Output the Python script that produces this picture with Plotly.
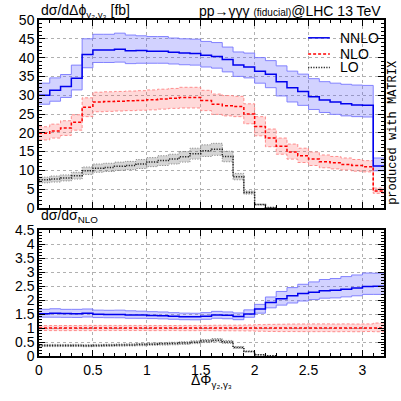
import plotly.graph_objects as go

# ---------------- data ----------------
phi_edges = [0.0, 0.1, 0.2, 0.3, 0.4, 0.5, 0.6, 0.7, 0.8, 0.9, 1.0, 1.1, 1.2, 1.3, 1.4, 1.5, 1.6,
             1.7, 1.8, 1.9, 2.0, 2.1, 2.2, 2.3, 2.4, 2.5, 2.6, 2.7, 2.8, 2.9, 3.0, 3.1, 3.2]

nnlo = [30.0, 31.3, 32.3, 34.5, 40.8, 42.0, 42.0, 42.2, 41.8, 41.9, 41.7, 41.7, 41.4, 41.2, 41.1, 40.6,
        40.3, 39.5, 38.0, 37.5, 36.4, 35.6, 33.6, 32.0, 31.0, 29.6, 28.7, 28.2, 27.7, 27.4, 27.3, 11.2]
nnlo_up = [33.2, 34.6, 35.5, 38.0, 45.0, 46.2, 46.2, 46.5, 46.0, 45.8, 45.6, 45.6, 45.2, 45.0, 44.9, 44.3,
           44.0, 42.8, 41.5, 41.2, 40.0, 39.2, 37.8, 36.4, 35.6, 34.4, 33.6, 33.2, 32.9, 32.7, 32.6, 13.3]
nnlo_lo = [27.6, 28.4, 29.4, 31.4, 37.3, 38.7, 38.7, 38.8, 38.4, 38.5, 38.5, 38.5, 38.3, 38.1, 38.0, 37.5,
           37.2, 36.2, 35.0, 34.6, 33.2, 32.0, 29.8, 28.2, 27.3, 26.2, 25.4, 24.9, 24.5, 24.3, 24.2, 9.9]

nlo = [19.9, 20.5, 21.3, 22.8, 26.8, 28.2, 28.3, 28.4, 28.5, 28.6, 28.8, 29.0, 29.2, 29.4, 29.4, 28.6,
       27.6, 27.2, 27.0, 25.0, 21.7, 18.6, 16.4, 14.9, 13.9, 13.0, 12.3, 12.0, 11.6, 11.3, 11.0, 4.5]
nlo_up = [21.6, 22.3, 23.2, 24.8, 29.3, 30.8, 30.9, 31.0, 31.1, 31.2, 31.4, 31.6, 31.8, 32.1, 32.1, 31.3,
          30.3, 29.9, 29.7, 27.7, 24.3, 21.0, 18.6, 17.0, 15.9, 14.9, 14.1, 13.7, 13.3, 12.9, 12.6, 5.3]
nlo_lo = [18.1, 18.6, 19.3, 20.7, 24.3, 25.6, 25.7, 25.8, 25.9, 26.0, 26.1, 26.3, 26.5, 26.6, 26.6, 25.9,
          24.9, 24.5, 24.3, 22.4, 19.2, 16.3, 14.3, 13.0, 12.1, 11.3, 10.7, 10.4, 10.1, 9.8, 9.6, 3.9]

lo = [7.5, 7.7, 8.0, 8.6, 9.9, 10.6, 10.8, 11.1, 11.3, 11.7, 12.2, 12.6, 13.0, 13.6, 14.4, 15.2,
      15.6, 13.7, 8.3, 4.1, 0.9, 0.1]
lo_up = [8.2, 8.5, 8.8, 9.5, 10.9, 11.7, 11.9, 12.2, 12.4, 12.9, 13.4, 13.9, 14.3, 15.0, 15.9, 16.8,
         17.2, 15.1, 9.2, 4.5, 1.0, 0.1]
lo_lo = [6.7, 6.9, 7.2, 7.7, 8.9, 9.5, 9.7, 10.0, 10.2, 10.5, 11.0, 11.3, 11.7, 12.2, 13.0, 13.7,
         14.0, 12.3, 7.5, 3.7, 0.8, 0.1]

x_ticks = [0, 0.5, 1, 1.5, 2, 2.5, 3]
x_ticklabels = ["0", "0.5", "1", "1.5", "2", "2.5", "3"]

# ---------------- helpers ----------------
FONT = "Liberation Sans, Arial, sans-serif"
DASH_NLO = "3px,2px"
DOT_LO = "1.2px,1.4px"


def step(vals):
    n = len(vals)
    return phi_edges[:n + 1], list(vals) + [vals[-1]]


fig = go.Figure()


def band(lo_v, hi_v, edge_color, fill, dash, xa, ya):
    x, ylo = step(lo_v)
    _, yhi = step(hi_v)
    fig.add_trace(go.Scatter(x=x, y=ylo, mode="lines", xaxis=xa, yaxis=ya, showlegend=False,
                             hoverinfo="skip",
                             line=dict(color=edge_color, width=1, dash=dash, shape="hv")))
    fig.add_trace(go.Scatter(x=x, y=yhi, mode="lines", xaxis=xa, yaxis=ya, showlegend=False,
                             hoverinfo="skip", fill="tonexty", fillcolor=fill,
                             line=dict(color=edge_color, width=1, dash=dash, shape="hv")))


def line(vals, color, dash, xa, ya, width=1.5):
    x, y = step(vals)
    fig.add_trace(go.Scatter(x=x, y=y, mode="lines", xaxis=xa, yaxis=ya, showlegend=False,
                             line=dict(color=color, width=width, dash=dash, shape="hv")))


C_NNLO = "#0000ee"
C_NNLO_E = "rgba(120,120,255,0.9)"
F_NNLO = "rgba(90,90,255,0.27)"
C_NLO = "#ff0000"
C_NLO_E = "rgba(255,130,130,0.9)"
F_NLO = "rgba(255,80,80,0.22)"
C_LO = "#222222"
C_LO_E = "rgba(130,130,130,0.9)"
F_LO = "rgba(100,100,100,0.27)"

# top panel
band(lo_lo, lo_up, C_LO_E, F_LO, DOT_LO, "x", "y")
band(nlo_lo, nlo_up, C_NLO_E, F_NLO, DASH_NLO, "x", "y")
band(nnlo_lo, nnlo_up, C_NNLO_E, F_NNLO, "solid", "x", "y")
line(lo, C_LO, DOT_LO, "x", "y")
line(nlo, C_NLO, DASH_NLO, "x", "y")
line(nnlo, C_NNLO, "solid", "x", "y")

# ratio panel
r_nnlo = [a / b for a, b in zip(nnlo, nlo)]
r_nnlo_up = [a / b for a, b in zip(nnlo_up, nlo)]
r_nnlo_lo = [a / b for a, b in zip(nnlo_lo, nlo)]
r_nlo = [a / b for a, b in zip(nlo, nlo)]
r_nlo_up = [a / b for a, b in zip(nlo_up, nlo)]
r_nlo_lo = [a / b for a, b in zip(nlo_lo, nlo)]
r_lo = [a / b for a, b in zip(lo, nlo)]
r_lo_up = [a / b for a, b in zip(lo_up, nlo)]
r_lo_lo = [a / b for a, b in zip(lo_lo, nlo)]

band(r_lo_lo, r_lo_up, C_LO_E, F_LO, DOT_LO, "x2", "y2")
band(r_nlo_lo, r_nlo_up, C_NLO_E, F_NLO, DASH_NLO, "x2", "y2")
band(r_nnlo_lo, r_nnlo_up, C_NNLO_E, F_NNLO, "solid", "x2", "y2")
line(r_lo, C_LO, DOT_LO, "x2", "y2")
line(r_nlo, C_NLO, DASH_NLO, "x2", "y2")
line(r_nnlo, C_NNLO, "solid", "x2", "y2")

axis_common = dict(showline=True, linecolor="black", linewidth=1.5, mirror="ticks",
                   ticks="inside", ticklen=6, tickwidth=1, tickcolor="black",
                   showgrid=True, gridcolor="#b0b0b0", griddash="dot", gridwidth=1,
                   zeroline=False, automargin=False,
                   tickfont=dict(family=FONT, size=14, color="black"))

fig.update_layout(
    template="none",
    width=401, height=401,
    margin=dict(l=39, r=17, t=20, b=45),
    paper_bgcolor="white", plot_bgcolor="white",
    showlegend=False,
    xaxis=dict(domain=[0, 1], range=[0, 3.2], anchor="y", tickvals=x_ticks, showticklabels=False,
               minor=dict(dtick=0.1, ticklen=3, ticks="inside", tickcolor="black", showgrid=False),
               **axis_common),
    yaxis=dict(domain=[0.4405, 1], range=[0, 50], anchor="x", dtick=5,
               minor=dict(dtick=1, ticklen=3, ticks="inside", tickcolor="black", showgrid=False),
               **axis_common),
    xaxis2=dict(domain=[0, 1], range=[0, 3.2], anchor="y2", tickvals=x_ticks, ticktext=x_ticklabels,
                minor=dict(dtick=0.1, ticklen=3, ticks="inside", tickcolor="black", showgrid=False),
                **axis_common),
    yaxis2=dict(domain=[0, 0.375], range=[0, 4.5], anchor="x2", dtick=0.5,
                minor=dict(dtick=0.1, ticklen=3, ticks="inside", tickcolor="black", showgrid=False),
                **axis_common),
)

# text
ann = [
    dict(text="dσ/dΔϕ<sub>γ₂,γ₃</sub> [fb]", x=0, y=1.027, xanchor="left", yanchor="middle",
         font=dict(size=14)),
    dict(text="pp→γγγ <span style='font-size:10px'>(fiducial)</span>@LHC 13 TeV", x=0.997, y=1.027,
         xanchor="right", yanchor="middle", font=dict(size=14)),
    dict(text="dσ/dσ<sub>NLO</sub>", x=0, y=0.418, xanchor="left", yanchor="middle",
         font=dict(size=14)),
    dict(text="ΔΦ<sub>γ₂,γ₃</sub>", x=0.5, y=-0.075, xanchor="center", yanchor="middle",
         font=dict(size=14)),
    dict(text="produced with MATRIX", x=1.026, y=0.664, xanchor="center", yanchor="middle",
         textangle=-90, font=dict(size=12, family="Liberation Mono, Courier New, monospace")),
    dict(text="NNLO", x=0.867, y=0.947, xanchor="left", yanchor="middle", font=dict(size=14)),
    dict(text="NLO", x=0.867, y=0.899, xanchor="left", yanchor="middle", font=dict(size=14)),
    dict(text="LO", x=0.867, y=0.859, xanchor="left", yanchor="middle", font=dict(size=14)),
]
for a in ann:
    a.setdefault("showarrow", False)
    a["xref"] = "paper"
    a["yref"] = "paper"
    a["font"].setdefault("family", FONT)
    a["font"].setdefault("color", "black")
    fig.add_annotation(**a)

for yy, col, dash in [(0.947, C_NNLO, "solid"), (0.899, C_NLO, DASH_NLO), (0.859, C_LO, DOT_LO)]:
    fig.add_shape(type="line", xref="paper", yref="paper", x0=0.78, x1=0.843, y0=yy, y1=yy,
                  line=dict(color=col, width=1.5, dash=dash))

fig.write_html("out.html", config={"displayModeBar": False},
               post_script="document.body.style.margin='0px';")
